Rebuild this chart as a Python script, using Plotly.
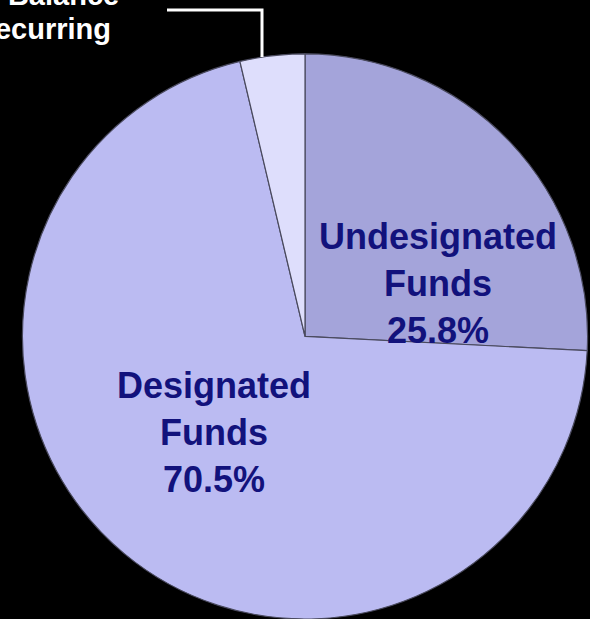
import plotly.graph_objects as go

# Data
labels = ["Undesignated Funds", "Designated Funds", "Fund Balance Non-Recurring"]
values = [25.8, 70.5, 3.7]
slice_colors = ["#a4a4da", "#bbbbf2", "#dedefc"]

W, H = 590, 619


def px(x):
    return x / W


def py(y):
    return 1 - y / H


fig = go.Figure(
    go.Pie(
        labels=labels,
        values=values,
        sort=False,
        direction="clockwise",
        rotation=0,
        textinfo="none",
        hoverinfo="label+percent",
        marker=dict(colors=slice_colors, line=dict(color="#4a4a5e", width=1.2)),
        domain=dict(x=[22 / W, 588 / W], y=[0, 0.913]),
        showlegend=False,
    )
)

navy = "#12127c"
font_main = dict(family="Liberation Sans, Arial, sans-serif", size=36, color=navy)

def split_label(lbl):
    a, b = lbl.rsplit(" ", 1)
    return a, b

annotations = []
# Undesignated
w1, w2 = split_label(labels[0])
annotations.append(dict(
    x=px(438), y=py(283), xref="paper", yref="paper",
    text=f"<b>{w1}<br>{w2}<br>{values[0]:.1f}%</b>",
    showarrow=False, font=font_main, align="center",
    xanchor="center", yanchor="middle",
))
# Designated
w1, w2 = split_label(labels[1])
annotations.append(dict(
    x=px(214), y=py(432), xref="paper", yref="paper",
    text=f"<b>{w1}<br>{w2}<br>{values[1]:.1f}%</b>",
    showarrow=False, font=font_main, align="center",
    xanchor="center", yanchor="middle",
))
# Small slice label (partly outside canvas, as in the reference)
font_small = dict(family="Liberation Sans, Arial, sans-serif", size=29, color="white")
annotations.append(dict(
    x=px(121), y=py(-5), xref="paper", yref="paper",
    text="<b>Fund Balance</b>", showarrow=False, font=font_small,
    xanchor="right", yanchor="middle",
))
annotations.append(dict(
    x=px(113), y=py(29), xref="paper", yref="paper",
    text="<b>Non-Recurring</b>", showarrow=False, font=font_small,
    xanchor="right", yanchor="middle",
))

shapes = [dict(
    type="path", xref="paper", yref="paper",
    path=f"M {px(167)} {py(10)} L {px(262)} {py(10)} L {px(262)} {py(57)}",
    line=dict(color="white", width=3),
)]

fig.update_layout(
    width=W, height=H,
    margin=dict(l=0, r=0, t=0, b=0),
    paper_bgcolor="black",
    plot_bgcolor="black",
    annotations=annotations,
    shapes=shapes,
)

fig.write_html(
    "out.html",
    config={"displayModeBar": False},
    post_script="document.body.style.margin='0';document.body.style.background='black';",
)
